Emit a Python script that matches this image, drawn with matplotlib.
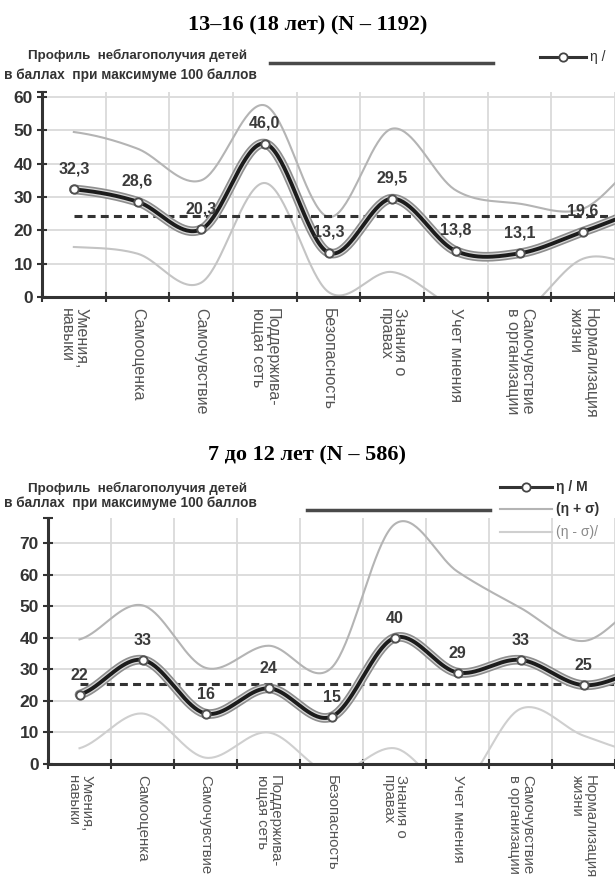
import numpy as np
import matplotlib
matplotlib.use("Agg")
import matplotlib.pyplot as plt
from matplotlib.lines import Line2D

plt.rcParams['font.family'] = ['Liberation Sans', 'DejaVu Sans']

# categories (same for both panels)
categories = ['Умения,\nнавыки', 'Самооценка', 'Самочувствие', 'Поддержива-\nющая сеть',
              'Безопасность', 'Знания о\nправах', 'Учет мнения', 'Самочувствие\nв организации',
              'Нормализация\nжизни']

# 13-16 (18) years; last value of each curve lies past the cropped right edge
top_mean = [32.3, 28.6, 20.3, 46.0, 13.3, 29.5, 13.8, 13.1, 19.6, 26]
top_upper = [49.5, 44.5, 35, 57.5, 24, 50.5, 32, 28, 26.5, 42]
top_lower = [15, 13, 4.3, 34.2, 1.5, 7.5, -3, -5, 11.5, 9]
top_avg = 24.4

# 7-12 years
bot_mean = [22, 33, 16, 24, 15, 40, 29, 33, 25, 30]
bot_upper = [39.5, 50.3, 30.5, 37.5, 30.5, 76, 61, 49.5, 39, 52]
bot_lower = [5, 16, 2, 10, -3, 5, -8, 17.5, 9, 3]
bot_avg = 25.5

W, H = 615, 883


def smooth(vals, n=40):
    # Excel-like smoothed line (cardinal / Catmull-Rom spline)
    y = np.asarray(vals, float)
    xs, ys = [], []
    for i in range(len(y) - 1):
        p0 = y[max(i - 1, 0)]
        p1, p2 = y[i], y[i + 1]
        p3 = y[min(i + 2, len(y) - 1)]
        m1 = (p2 - p0) / 2
        m2 = (p3 - p1) / 2
        t = np.linspace(0, 1, n, endpoint=False)
        h00 = 2 * t**3 - 3 * t**2 + 1
        h10 = t**3 - 2 * t**2 + t
        h01 = -2 * t**3 + 3 * t**2
        h11 = t**3 - t**2
        xs.append(i + t)
        ys.append(h00 * p1 + h10 * m1 + h01 * p2 + h11 * m2)
    xs.append([len(y) - 1])
    ys.append([y[-1]])
    return np.concatenate(xs), np.concatenate(ys)


def px_axes(left, top, right, bottom):
    return fig.add_axes([left / W, 1 - bottom / H, (right - left) / W, (bottom - top) / H])


def draw_panel(ax, mean, upper, lower, avg, ymax, yticks, cell, left, fmt, low_color,
               label_off, cat_size):
    ax.set_xlim(-0.5, -0.5 + (W - left) / cell)
    ax.set_ylim(0, ymax)
    for s in ['top', 'right']:
        ax.spines[s].set_visible(False)
    for s in ['left', 'bottom']:
        ax.spines[s].set_color('#333333')
        ax.spines[s].set_linewidth(2.2)

    n = len(categories)
    ax.set_xticks(np.arange(n + 1) - 0.5)
    ax.set_xticklabels([])
    ax.set_xticks(np.arange(n), minor=True)
    ax.set_xticklabels(categories, minor=True, rotation=270, va='top', ha='center',
                       fontsize=cat_size, color='#555555', linespacing=0.95, multialignment='left')
    ax.tick_params(axis='x', which='major', direction='inout', length=7, width=1.5, color='#333333')
    ax.tick_params(axis='x', which='minor', length=0, pad=8)

    ax.set_yticks(yticks)
    ax.set_yticks([ymax], minor=True)
    ax.tick_params(axis='y', which='both', direction='inout', length=7, width=1.5, color='#333333',
                   labelsize=12.5, labelcolor='#333333', pad=3)
    for lab in ax.get_yticklabels():
        lab.set_fontweight('bold')
    ax.grid(True, which='major', color='#dadada', linewidth=1.3)
    ax.set_axisbelow(True)

    xs, ys = smooth(upper)
    ax.plot(xs, ys, color='#b4b4b4', lw=1.5)
    xs, ys = smooth(lower)
    ax.plot(xs, ys, color=low_color, lw=1.5)

    ax.plot([0, 20], [avg, avg], color='#333333', lw=2.2, dashes=(2.6, 1.7))

    xs, ys = smooth(mean)
    ax.plot(xs, ys, color='#8e8e8e', lw=7, solid_capstyle='round')
    ax.plot(xs, ys, color='#d8d8d8', lw=4.6, solid_capstyle='round')
    ax.plot(xs, ys, color='#1c1c1c', lw=2.8, solid_capstyle='round')
    idx = np.arange(n)
    vals = np.array(mean[:n])
    ax.plot(idx, vals, 'o', mfc='white', mec='#505050', ms=6, mew=1.4)
    for i, v in zip(idx, vals):
        ax.annotate(fmt(v), (i, v), xytext=(0, label_off), textcoords='offset points',
                    ha='center', va='center', fontsize=11.5, fontweight='bold', color='#3a3a3a')


fig = plt.figure(figsize=(W / 100, H / 100), dpi=100)

fig.text(0.5, 1 - 25 / H, '13–16 (18 лет) (N – 1192)', ha='center', va='center',
         family='Liberation Serif', fontweight='bold', fontsize=16)
fig.text(0.5, 1 - 455 / H, '7 до 12 лет (N – 586)', ha='center', va='center',
         family='Liberation Serif', fontweight='bold', fontsize=16)

ax1 = px_axes(42, 92, W, 297)
draw_panel(ax1, top_mean, top_upper, top_lower, top_avg, 61.5, np.arange(0, 61, 10),
           65.5, 42, lambda v: f'{v:.1f}'.replace('.', ','), '#c4c4c4', 15, 11.5)

ax2 = px_axes(48, 518, W, 764)
draw_panel(ax2, bot_mean, bot_upper, bot_lower, bot_avg, 78, np.arange(0, 71, 10),
           65, 48, lambda v: f'{v:.0f}', '#cfcfcf', 14, 10.8)

# header texts and legend fragments
for y1, y2 in [(55, 75), (488, 503)]:
    fig.text(138 / W, 1 - y1 / H, 'Профиль  неблагополучия детей', ha='center', va='center',
             fontsize=9.6, fontweight='bold', color='#333333')
    fig.text(4 / W, 1 - y2 / H, 'в баллах  при максимуме 100 баллов', ha='left', va='center',
             fontsize=9.8, fontweight='bold', color='#333333')

fig.add_artist(Line2D([270 / W, 493 / W], [1 - 63 / H] * 2, color='#4a4a4a', lw=2.5))
fig.add_artist(Line2D([307 / W, 490 / W], [1 - 510 / H] * 2, color='#4a4a4a', lw=2.5))

fig.add_artist(Line2D([540 / W, 586 / W], [1 - 57 / H] * 2, color='#333333', lw=2.2))
fig.add_artist(Line2D([563 / W], [1 - 57 / H], marker='o', mfc='white', mec='#444444', ms=6, mew=1.3))
fig.text(590 / W, 1 - 57 / H, 'η /', ha='left', va='center', fontsize=10, color='#333333')

fig.add_artist(Line2D([500 / W, 552 / W], [1 - 487 / H] * 2, color='#333333', lw=2.2))
fig.add_artist(Line2D([526 / W], [1 - 487 / H], marker='o', mfc='white', mec='#444444', ms=6, mew=1.3))
fig.text(556 / W, 1 - 487 / H, 'η / M', ha='left', va='center', fontsize=10,
         fontweight='bold', color='#333333')
fig.add_artist(Line2D([500 / W, 552 / W], [1 - 509 / H] * 2, color='#b4b4b4', lw=1.5))
fig.text(556 / W, 1 - 509 / H, '(η + σ)', ha='left', va='center', fontsize=10,
         fontweight='bold', color='#333333')
fig.add_artist(Line2D([500 / W, 552 / W], [1 - 532 / H] * 2, color='#cfcfcf', lw=1.5))
fig.text(556 / W, 1 - 532 / H, '(η - σ)/', ha='left', va='center', fontsize=10,
         color='#8a8a8a')

fig.savefig('out.png', dpi=100)
